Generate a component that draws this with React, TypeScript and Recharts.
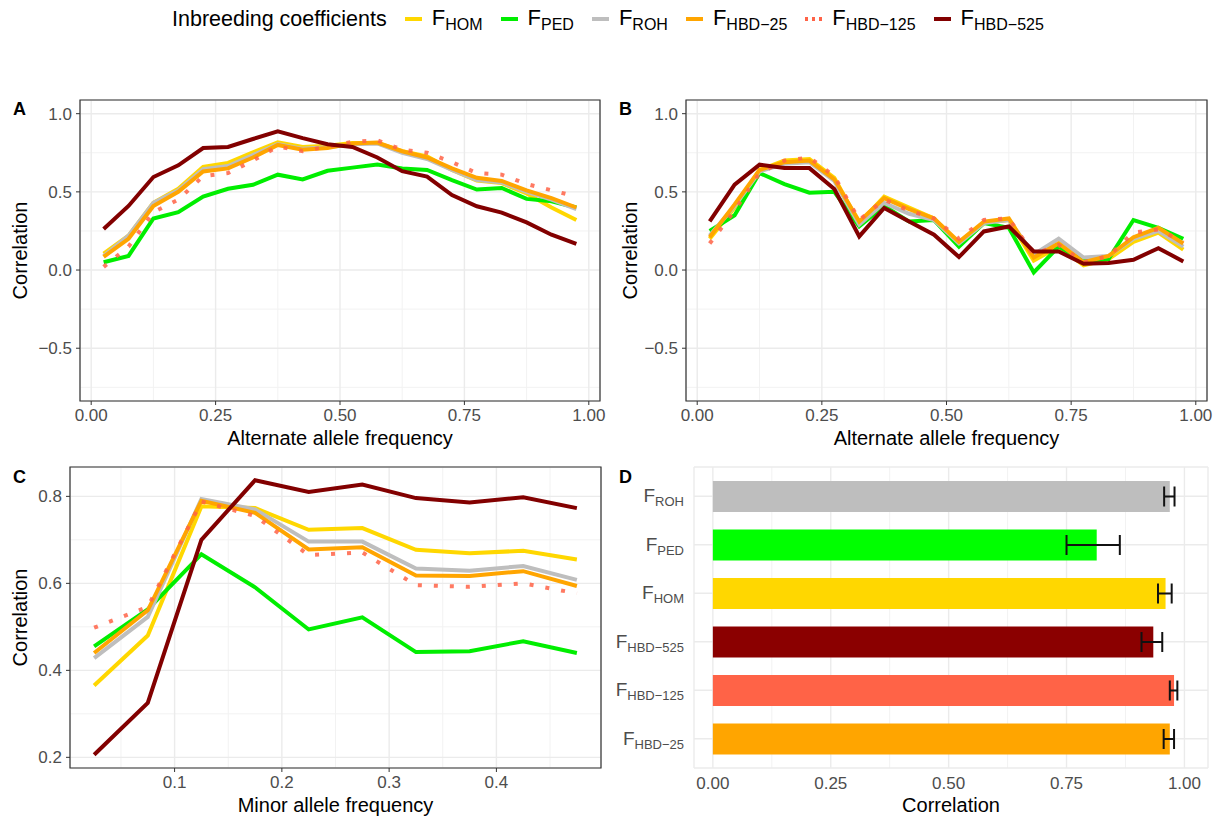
import React from "react";
import {
  LineChart,
  Line,
  XAxis,
  YAxis,
  CartesianGrid,
  ReferenceArea,
  BarChart,
  Bar,
  Cell,
  ErrorBar,
} from "recharts";

const FONT = "'Liberation Sans', Arial, Helvetica, sans-serif";

// allele frequency bins
const altFreq = [
  0.025, 0.075, 0.125, 0.175, 0.225, 0.275, 0.325, 0.375, 0.425, 0.475,
  0.525, 0.575, 0.625, 0.675, 0.725, 0.775, 0.825, 0.875, 0.925, 0.975,
];
const minorFreq = [0.025, 0.075, 0.125, 0.175, 0.225, 0.275, 0.325, 0.375, 0.425, 0.475];

// panel A
const aHom = [0.105, 0.22, 0.43, 0.52, 0.66, 0.685, 0.753, 0.817, 0.787, 0.795, 0.812, 0.812, 0.76, 0.727, 0.64, 0.573, 0.556, 0.49, 0.4, 0.32];
const aPed = [0.05, 0.09, 0.33, 0.37, 0.47, 0.52, 0.545, 0.61, 0.58, 0.635, 0.655, 0.675, 0.65, 0.64, 0.575, 0.515, 0.525, 0.455, 0.44, 0.4];
const aRoh = [0.09, 0.22, 0.43, 0.51, 0.645, 0.665, 0.735, 0.805, 0.775, 0.785, 0.805, 0.81, 0.75, 0.71, 0.64, 0.575, 0.56, 0.5, 0.45, 0.39];
const aHbd25 = [0.085, 0.2, 0.41, 0.5, 0.63, 0.65, 0.72, 0.8, 0.77, 0.78, 0.81, 0.815, 0.76, 0.72, 0.65, 0.59, 0.57, 0.51, 0.46, 0.4];
const aHbd125 = [0.02, 0.15, 0.37, 0.45, 0.6, 0.62, 0.7, 0.79, 0.76, 0.79, 0.82, 0.83, 0.77, 0.75, 0.69, 0.62, 0.61, 0.55, 0.51, 0.47];
const aHbd525 = [0.262, 0.41, 0.595, 0.67, 0.78, 0.787, 0.838, 0.887, 0.844, 0.805, 0.787, 0.72, 0.632, 0.598, 0.48, 0.408, 0.367, 0.305, 0.226, 0.168];

// panel B
const bHom = [0.2, 0.4, 0.64, 0.7, 0.71, 0.59, 0.3, 0.47, 0.4, 0.33, 0.16, 0.3, 0.32, 0.06, 0.15, 0.03, 0.07, 0.18, 0.24, 0.13];
const bPed = [0.25, 0.35, 0.62, 0.55, 0.495, 0.5, 0.28, 0.41, 0.31, 0.32, 0.15, 0.3, 0.27, -0.015, 0.15, 0.06, 0.07, 0.32, 0.27, 0.2];
const bRoh = [0.22, 0.41, 0.63, 0.68, 0.69, 0.57, 0.29, 0.43, 0.36, 0.32, 0.17, 0.3, 0.32, 0.1, 0.2, 0.08, 0.09, 0.2, 0.25, 0.15];
const bHbd25 = [0.21, 0.42, 0.64, 0.69, 0.7, 0.58, 0.31, 0.46, 0.39, 0.33, 0.18, 0.31, 0.33, 0.08, 0.17, 0.05, 0.09, 0.21, 0.27, 0.17];
const bHbd125 = [0.17, 0.38, 0.62, 0.7, 0.72, 0.6, 0.32, 0.45, 0.38, 0.33, 0.2, 0.32, 0.33, 0.1, 0.16, 0.05, 0.09, 0.24, 0.26, 0.18];
const bHbd525 = [0.311, 0.546, 0.674, 0.652, 0.652, 0.518, 0.215, 0.397, 0.311, 0.226, 0.083, 0.247, 0.279, 0.119, 0.119, 0.04, 0.045, 0.066, 0.14, 0.055];

// panel C
const cHom = [0.365, 0.48, 0.777, 0.773, 0.723, 0.727, 0.677, 0.669, 0.675, 0.655];
const cPed = [0.455, 0.54, 0.667, 0.591, 0.494, 0.522, 0.442, 0.444, 0.467, 0.44];
const cRoh = [0.428, 0.523, 0.794, 0.77, 0.696, 0.696, 0.634, 0.629, 0.64, 0.608];
const cHbd25 = [0.44, 0.538, 0.79, 0.762, 0.678, 0.683, 0.618, 0.617, 0.628, 0.594];
const cHbd125 = [0.498, 0.546, 0.788, 0.755, 0.665, 0.671, 0.596, 0.592, 0.6, 0.577];
const cHbd525 = [0.206, 0.325, 0.7, 0.837, 0.81, 0.827, 0.796, 0.786, 0.798, 0.773];

// panel D
const dNames = ["ROH", "PED", "HOM", "HBD−525", "HBD−125", "HBD−25"];
const dCorr = [0.969, 0.814, 0.96, 0.934, 0.978, 0.969];
const dLow = [0.957, 0.75, 0.944, 0.909, 0.969, 0.956];
const dHigh = [0.979, 0.863, 0.973, 0.953, 0.985, 0.978];

const series = [
  { key: "hom", name: "HOM", color: "#FFD700", dotted: false },
  { key: "ped", name: "PED", color: "#00EE00", dotted: false },
  { key: "roh", name: "ROH", color: "#BEBEBE", dotted: false },
  { key: "hbd25", name: "HBD−25", color: "#FFA500", dotted: false },
  { key: "hbd125", name: "HBD−125", color: "#FF6347", dotted: true },
  { key: "hbd525", name: "HBD−525", color: "#820000", dotted: false },
];

const barColors: Record<string, string> = {
  ROH: "#BEBEBE",
  PED: "#00FF00",
  HOM: "#FFD700",
  "HBD−525": "#8B0000",
  "HBD−125": "#FF6347",
  "HBD−25": "#FFA500",
};

const buildRows = (xs: number[], cols: number[][]) =>
  xs.map((f, i) => ({
    f,
    hom: cols[0][i],
    ped: cols[1][i],
    roh: cols[2][i],
    hbd25: cols[3][i],
    hbd125: cols[4][i],
    hbd525: cols[5][i],
  }));

const rowsA = buildRows(altFreq, [aHom, aPed, aRoh, aHbd25, aHbd125, aHbd525]);
const rowsB = buildRows(altFreq, [bHom, bPed, bRoh, bHbd25, bHbd125, bHbd525]);
const rowsC = buildRows(minorFreq, [cHom, cPed, cRoh, cHbd25, cHbd125, cHbd525]);

const rowsD = dNames.map((name, i) => ({
  name,
  corr: dCorr[i],
  err: [dCorr[i] - dLow[i], dHigh[i] - dCorr[i]],
}));

const fmtY = (v: number) => (v < 0 ? "−" + Math.abs(v).toFixed(1) : v.toFixed(1));

const tickStyle = { fill: "#4D4D4D", fontSize: 17, fontFamily: FONT };
const titleStyle = { fill: "#000", fontSize: 20, fontFamily: FONT };

interface PanelProps {
  rows: any[];
  width: number;
  height: number;
  margin: { top: number; right: number; left: number; bottom: number };
  yAxisWidth: number;
  xAxisHeight: number;
  xDomain: [number, number];
  yDomain: [number, number];
  xTicks: number[];
  yTicks: number[];
  xMinor: number[];
  yMinor: number[];
  xFmt: (v: number) => string;
  xTitle: string;
  xTitleOffset: number;
}

const FreqPanel = (p: PanelProps) => (
  <LineChart width={p.width} height={p.height} data={p.rows} margin={p.margin}>
    <CartesianGrid stroke="#F2F2F2" strokeWidth={1} verticalValues={p.xMinor} horizontalValues={p.yMinor} />
    <CartesianGrid stroke="#EBEBEB" strokeWidth={1.4} />
    <XAxis
      dataKey="f"
      type="number"
      domain={p.xDomain}
      allowDataOverflow
      ticks={p.xTicks}
      tickFormatter={p.xFmt}
      axisLine={false}
      tickLine={{ stroke: "#333333" }}
      tickSize={4}
      tickMargin={4}
      tick={tickStyle}
      height={p.xAxisHeight}
      label={{ value: p.xTitle, position: "insideBottom", offset: p.xTitleOffset, style: titleStyle }}
    />
    <YAxis
      type="number"
      domain={p.yDomain}
      allowDataOverflow
      ticks={p.yTicks}
      tickFormatter={fmtY}
      axisLine={false}
      tickLine={{ stroke: "#333333" }}
      tickSize={4}
      tickMargin={4}
      tick={tickStyle}
      width={p.yAxisWidth}
      label={{
        value: "Correlation",
        angle: -90,
        position: "insideLeft",
        offset: 20,
        style: { ...titleStyle, textAnchor: "middle" },
      }}
    />
    {series.map((s) => (
      <Line
        key={s.key}
        type="linear"
        dataKey={s.key}
        stroke={s.color}
        strokeWidth={4}
        strokeOpacity={s.dotted ? 0.85 : 1}
        strokeDasharray={s.dotted ? "4 12" : undefined}
        strokeLinecap="butt"
        dot={false}
        isAnimationActive={false}
      />
    ))}
    <ReferenceArea
      x1={p.xDomain[0]}
      x2={p.xDomain[1]}
      y1={p.yDomain[0]}
      y2={p.yDomain[1]}
      fill="none"
      stroke="#333333"
      strokeWidth={1.2}
      ifOverflow="visible"
    />
  </LineChart>
);

const FTick = (props: any) => {
  const { x, y, payload } = props;
  return (
    <text x={x} y={y} textAnchor="end" fill="#4D4D4D" fontFamily={FONT}>
      <tspan fontSize={19} dy={6}>F</tspan>
      <tspan fontSize={13} dy={4}>{payload.value}</tspan>
    </text>
  );
};

const Letter = ({ x, y, t }: { x: number; y: number; t: string }) => (
  <div style={{ position: "absolute", left: x, top: y, fontWeight: "bold", fontSize: 18, fontFamily: FONT }}>{t}</div>
);

const App = () => {
  return (
    <div
      style={{
        position: "absolute",
        left: 0,
        top: 0,
        width: 1222,
        height: 820,
        background: "#fff",
        fontFamily: FONT,
        overflow: "hidden",
      }}
    >
      {/* legend */}
      <div
        style={{
          position: "absolute",
          left: 172,
          top: 0,
          height: 38,
          display: "flex",
          alignItems: "center",
          fontSize: 21.5,
          whiteSpace: "nowrap",
        }}
      >
        <span>Inbreeding coefficients</span>
        {series.map((s) => (
          <span key={s.key} style={{ display: "flex", alignItems: "center", marginLeft: 18 }}>
            <svg width={17} height={10}>
              <line
                x1={0}
                x2={17}
                y1={5}
                y2={5}
                stroke={s.color}
                strokeWidth={4}
                strokeDasharray={s.dotted ? "3 4" : undefined}
              />
            </svg>
            <span style={{ marginLeft: 10, fontSize: 22 }}>
              F<sub style={{ fontSize: 16, verticalAlign: "-5px" }}>{s.name}</sub>
            </span>
          </span>
        ))}
      </div>

      <div style={{ position: "absolute", left: 0, top: 90 }}>
        <FreqPanel
          rows={rowsA}
          width={610}
          height={370}
          margin={{ top: 10, right: 10, left: 0, bottom: 0 }}
          yAxisWidth={80}
          xAxisHeight={59}
          xDomain={[-0.0225, 1.0225]}
          yDomain={[-0.8375, 1.0875]}
          xTicks={[0, 0.25, 0.5, 0.75, 1]}
          yTicks={[-0.5, 0, 0.5, 1]}
          xMinor={[0.125, 0.375, 0.625, 0.875]}
          yMinor={[-0.75, -0.25, 0.25, 0.75]}
          xFmt={(v) => v.toFixed(2)}
          xTitle="Alternate allele frequency"
          xTitleOffset={15}
        />
      </div>

      <div style={{ position: "absolute", left: 610, top: 90 }}>
        <FreqPanel
          rows={rowsB}
          width={612}
          height={370}
          margin={{ top: 10, right: 15, left: 0, bottom: 0 }}
          yAxisWidth={76}
          xAxisHeight={59}
          xDomain={[-0.0225, 1.0225]}
          yDomain={[-0.8375, 1.0875]}
          xTicks={[0, 0.25, 0.5, 0.75, 1]}
          yTicks={[-0.5, 0, 0.5, 1]}
          xMinor={[0.125, 0.375, 0.625, 0.875]}
          yMinor={[-0.75, -0.25, 0.25, 0.75]}
          xFmt={(v) => v.toFixed(2)}
          xTitle="Alternate allele frequency"
          xTitleOffset={15}
        />
      </div>

      <div style={{ position: "absolute", left: 0, top: 460 }}>
        <FreqPanel
          rows={rowsC}
          width={610}
          height={360}
          margin={{ top: 7, right: 9, left: 0, bottom: 0 }}
          yAxisWidth={70}
          xAxisHeight={52}
          xDomain={[0.0025, 0.4975]}
          yDomain={[0.1755, 0.8675]}
          xTicks={[0.1, 0.2, 0.3, 0.4]}
          yTicks={[0.2, 0.4, 0.6, 0.8]}
          xMinor={[0.05, 0.15, 0.25, 0.35, 0.45]}
          yMinor={[0.3, 0.5, 0.7]}
          xFmt={(v) => v.toFixed(1)}
          xTitle="Minor allele frequency"
          xTitleOffset={8}
        />
      </div>

      <div style={{ position: "absolute", left: 610, top: 460 }}>
        <BarChart
          width={612}
          height={360}
          data={rowsD}
          layout="vertical"
          margin={{ top: 7, right: 14, left: 0, bottom: 0 }}
        >
          <CartesianGrid stroke="#F2F2F2" strokeWidth={1} horizontal={false} verticalValues={[0.125, 0.375, 0.625, 0.875]} />
          <CartesianGrid stroke="#EBEBEB" strokeWidth={1.4} />
          <XAxis
            type="number"
            domain={[-0.04, 1.05]}
            allowDataOverflow
            ticks={[0, 0.25, 0.5, 0.75, 1]}
            tickFormatter={(v: number) => v.toFixed(2)}
            axisLine={false}
            tickLine={false}
            tickSize={0}
            tickMargin={9}
            tick={tickStyle}
            height={52}
            label={{ value: "Correlation", position: "insideBottom", offset: 8, style: titleStyle }}
          />
          <YAxis
            type="category"
            dataKey="name"
            axisLine={false}
            tickLine={false}
            tickSize={0}
            tickMargin={10}
            width={84}
            padding={{ top: 5, bottom: 5 }}
            tick={<FTick />}
          />
          <Bar dataKey="corr" barSize={31} isAnimationActive={false}>
            {rowsD.map((r) => (
              <Cell key={r.name} fill={barColors[r.name]} />
            ))}
            <ErrorBar dataKey="err" direction="x" width={10} stroke="#111" strokeWidth={2} />
          </Bar>
        </BarChart>
      </div>

      <Letter x={13} y={99} t="A" />
      <Letter x={619} y={99} t="B" />
      <Letter x={13} y={467} t="C" />
      <Letter x={619} y={467} t="D" />
    </div>
  );
};

export default App;
